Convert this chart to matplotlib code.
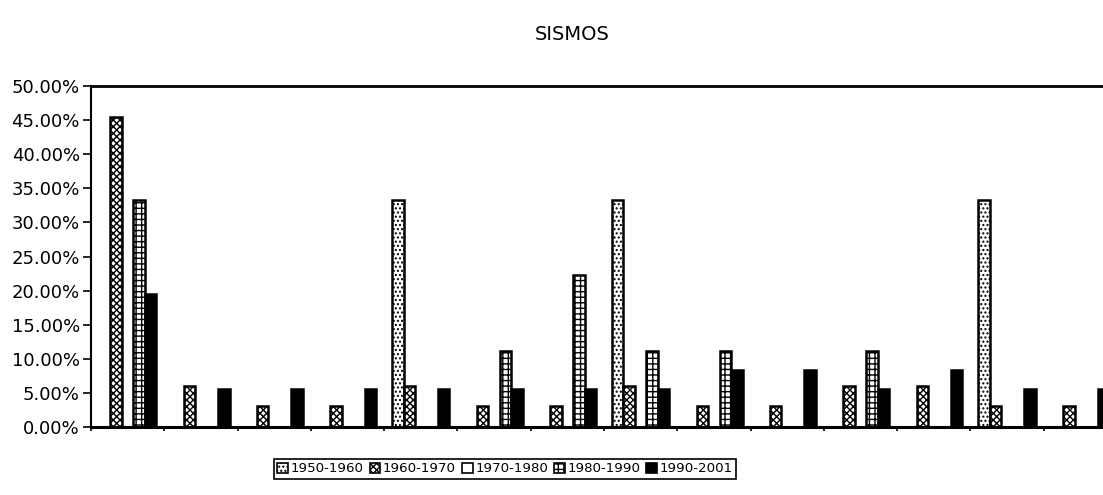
import numpy as np
import matplotlib
matplotlib.use("Agg")
import matplotlib.pyplot as plt
from matplotlib.patches import Patch
from matplotlib.ticker import PercentFormatter, FixedLocator, NullFormatter

# porcentaje de sismos por zona (14 zonas, sin etiquetas) y por decada
zonas = list(range(14))
decadas = ["1950-1960", "1960-1970", "1970-1980", "1980-1990", "1990-2001"]
s1950 = [0, 0, 0, 0, 33.33, 0, 0, 33.33, 0, 0, 0, 0, 33.33, 0]
s1960 = [45.45, 6.06, 3.03, 3.03, 6.06, 3.03, 3.03, 6.06, 3.03, 3.03, 6.06, 6.06, 3.03, 3.03]
s1970 = [0, 0, 0, 0, 0, 0, 0, 0, 0, 0, 0, 0, 0, 0]
s1980 = [33.33, 0, 0, 0, 0, 11.11, 22.22, 11.11, 11.11, 0, 11.11, 0, 0, 0]
s1990 = [19.44, 5.56, 5.56, 5.56, 5.56, 5.56, 5.56, 5.56, 8.33, 8.33, 5.56, 8.33, 5.56, 5.56]
series = [s1950, s1960, s1970, s1980, s1990]

estilos = [
    dict(facecolor="white", hatch="...."),
    dict(facecolor="white", hatch="xxxxx"),
    dict(facecolor="white", hatch=None),
    dict(facecolor="white", hatch="+++"),
    dict(facecolor="black", hatch=None),
]

plt.rcParams["font.family"] = "DejaVu Sans"
plt.rcParams["hatch.linewidth"] = 1.0

fig = plt.figure(figsize=(11.03, 4.95), dpi=100)
ax = fig.add_axes([91 / 1103, 1 - 427 / 495, 1026 / 1103, 341 / 495])

x = np.arange(len(zonas))
w = 0.156
for i, (vals, est) in enumerate(zip(series, estilos)):
    ax.bar(x + (i - 2) * w, vals, w, edgecolor="black", linewidth=1.8,
           **est)

ax.set_xlim(-0.5, 13.5)
ax.set_ylim(0, 50)
ax.set_yticks(np.arange(0, 50.1, 5))
ax.yaxis.set_major_formatter(PercentFormatter(100, decimals=2))
ax.tick_params(axis="y", labelsize=13, length=6, width=1.2, pad=2)
ax.xaxis.set_major_locator(FixedLocator(np.arange(-0.5, 14, 1)))
ax.xaxis.set_major_formatter(NullFormatter())
ax.tick_params(axis="x", length=3, width=1.2)

ax.spines["right"].set_visible(False)
ax.spines["top"].set_linewidth(2)
ax.spines["left"].set_linewidth(1.5)
ax.spines["bottom"].set_linewidth(2.2)

fig.text(572 / 1103, 1 - 34 / 495, "SISMOS", ha="center", va="center",
         fontsize=14)

handles = [Patch(edgecolor="black", linewidth=1.2, label=d, **e)
           for d, e in zip(decadas, estilos)]
leg = fig.legend(handles=handles, loc="center", ncol=5,
                 bbox_to_anchor=(505 / 1103, 1 - 469 / 495),
                 fontsize=9.6, handlelength=0.8, handleheight=0.8,
                 handletextpad=0.2, columnspacing=0.45, borderpad=0.25,
                 fancybox=False, framealpha=1)
leg.get_frame().set_edgecolor("black")
leg.get_frame().set_linewidth(1.2)

fig.savefig("out.png", dpi=100)
